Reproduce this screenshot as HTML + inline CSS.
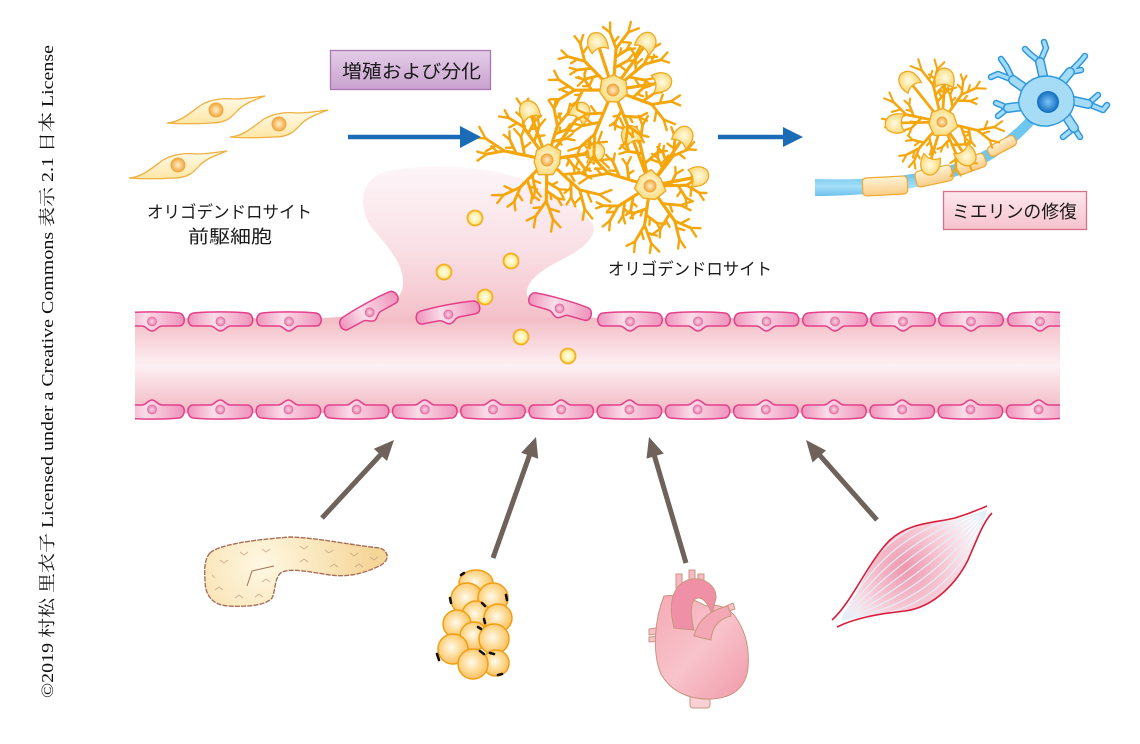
<!DOCTYPE html>
<html><head><meta charset="utf-8">
<style>
html,body{margin:0;padding:0;background:#fff;}
svg{display:block;}
.t{font-family:"Liberation Sans","Noto Sans CJK JP",sans-serif;fill:#1a1a1a;}
</style></head><body>
<svg id="s" width="1140" height="744" viewBox="0 0 1140 744" xmlns="http://www.w3.org/2000/svg">
<defs>
  <linearGradient id="gv" gradientUnits="userSpaceOnUse" x1="0" y1="318" x2="0" y2="413">
    <stop offset="0" stop-color="#f3bcc4"/><stop offset="0.5" stop-color="#fdf0f4"/><stop offset="1" stop-color="#f2b7c1"/>
  </linearGradient>
  <linearGradient id="gp" gradientUnits="userSpaceOnUse" x1="0" y1="168" x2="0" y2="320">
    <stop offset="0" stop-color="#fdf5f8"/><stop offset="0.55" stop-color="#f9dfe5"/><stop offset="1" stop-color="#f4c0c8"/>
  </linearGradient>
  <linearGradient id="gc" x1="0" y1="0" x2="1" y2="0">
    <stop offset="0" stop-color="#ee92bb"/><stop offset="0.4" stop-color="#fbdde9"/><stop offset="1" stop-color="#ee92bb"/>
  </linearGradient>
  <radialGradient id="gn"><stop offset="0" stop-color="#fbd6e5"/><stop offset="1" stop-color="#e67dab"/></radialGradient>
  <radialGradient id="gdot"><stop offset="0" stop-color="#fffdf0"/><stop offset="0.6" stop-color="#fff2b0"/><stop offset="1" stop-color="#ffe070"/></radialGradient>
  <radialGradient id="gsoma"><stop offset="0" stop-color="#fffbe4"/><stop offset="1" stop-color="#fbdc80"/></radialGradient>
  <radialGradient id="gnuc"><stop offset="0" stop-color="#fff0c8"/><stop offset="1" stop-color="#f2a640"/></radialGradient>
  <linearGradient id="gopc" x1="0" y1="0" x2="0" y2="1">
    <stop offset="0" stop-color="#fffbea"/><stop offset="1" stop-color="#fde6a6"/>
  </linearGradient>
  <linearGradient id="gpur" x1="0" y1="0" x2="0" y2="1">
    <stop offset="0" stop-color="#e4cde8"/><stop offset="1" stop-color="#c9a2cf"/>
  </linearGradient>
  <linearGradient id="gpink" x1="0" y1="0" x2="0" y2="1">
    <stop offset="0" stop-color="#fde8ee"/><stop offset="1" stop-color="#f6c2ce"/>
  </linearGradient>
  <linearGradient id="gmy" x1="0" y1="0" x2="0" y2="1">
    <stop offset="0" stop-color="#fff3d6"/><stop offset="1" stop-color="#f8cd88"/>
  </linearGradient>
  <linearGradient id="gax" gradientUnits="userSpaceOnUse" x1="0" y1="175" x2="0" y2="198">
    <stop offset="0" stop-color="#6fc6ee"/><stop offset="0.5" stop-color="#a6defa"/><stop offset="1" stop-color="#5fbce8"/>
  </linearGradient>
  <radialGradient id="gnn"><stop offset="0" stop-color="#7cc4f5"/><stop offset="1" stop-color="#0f6cbf"/></radialGradient>
  <radialGradient id="gpan" gradientUnits="userSpaceOnUse" cx="262" cy="565" r="110">
    <stop offset="0" stop-color="#fff8e2"/><stop offset="1" stop-color="#f5d699"/>
  </radialGradient>
  <radialGradient id="gfat" cx="0.45" cy="0.45" r="0.6">
    <stop offset="0" stop-color="#fffaf0"/><stop offset="0.5" stop-color="#ffdc98"/><stop offset="1" stop-color="#f7bc5c"/>
  </radialGradient>
  <linearGradient id="gh" x1="0" y1="0" x2="1" y2="1">
    <stop offset="0" stop-color="#f5aab6"/><stop offset="0.5" stop-color="#f8c3cb"/><stop offset="1" stop-color="#f09aaa"/>
  </linearGradient>
  <radialGradient id="gmus" gradientUnits="userSpaceOnUse" cx="905" cy="568" r="85">
    <stop offset="0" stop-color="#ee95ac"/><stop offset="0.55" stop-color="#f8d2dc"/><stop offset="1" stop-color="#ffffff"/>
  </radialGradient>
  <clipPath id="cv"><rect x="135" y="290" width="925" height="140"/></clipPath>
  <clipPath id="cm"><path d="M838,621 C856,600 870,560 890,540 C910,522 935,523 955,518 C970,514 980,512 989,510 C982,522 976,542 968,560 C957,582 935,607 905,611 C878,614 856,618 838,621 Z"/></clipPath>
  <g id="ec">
    <path d="M-27,-7 C-12,-8.5 12,-8.5 27,-7 C34,-6 34,6 27,6 L10,6 C6,6 4,11 0,11 C-4,11 -6,6 -10,6 L-27,6 C-34,6 -34,-6 -27,-7 Z" fill="url(#gc)" stroke="#e4408a" stroke-width="1.5"/>
    <circle cx="0" cy="1.5" r="4.5" fill="url(#gn)" stroke="#e76aa2" stroke-width="0.8"/>
  </g>
  <g id="opc">
    <path d="M-49,13 C-35,12 -25,2 -15,-5 C-5,-11 8,-12 18,-11 C30,-11 40,-13 49,-14 C38,-10 28,-6 22,0 C15,8 10,13 -5,13 C-20,14 -35,14 -49,13 Z" fill="url(#gopc)" stroke="#efb040" stroke-width="1.3"/>
    <circle cx="0" cy="0" r="7" fill="url(#gnuc)" stroke="#f0a838" stroke-width="1"/>
  </g>
</defs>

<!-- copyright -->
<text transform="translate(53,698) rotate(-90)" style="font-family:'Liberation Serif','Noto Serif CJK JP',serif;font-size:17px;fill:#111" textLength="653" lengthAdjust="spacingAndGlyphs">©2019 村松 里衣子 Licensed under a Creative Commons 表示 2.1 日本 License</text>

<!-- plume -->
<path d="M323,318 C360,316 395,310 402,290 C408,265 385,245 370,225 C358,205 360,180 385,172 C420,163 480,165 520,178 C555,192 585,210 593,225 C597,235 585,248 565,258 C540,270 525,282 527,295 C530,308 560,316 597,318 Z" fill="url(#gp)"/>

<!-- vessel -->
<rect x="135" y="318" width="925" height="95" fill="url(#gv)"/>
<g clip-path="url(#cv)">
  <use href="#ec" transform="translate(152,320)"/>
  <use href="#ec" transform="translate(220.5,320)"/>
  <use href="#ec" transform="translate(289,320)"/>
  <use href="#ec" transform="translate(630,320)"/>
  <use href="#ec" transform="translate(698,320)"/>
  <use href="#ec" transform="translate(766.5,320)"/>
  <use href="#ec" transform="translate(835,320)"/>
  <use href="#ec" transform="translate(903,320)"/>
  <use href="#ec" transform="translate(971,320)"/>
  <use href="#ec" transform="translate(1040,320)"/>
  <g id="bottomrow"></g>
</g>
<use href="#ec" transform="translate(369,311) rotate(-29)"/>
<use href="#ec" transform="translate(448,313) rotate(-11)"/>
<use href="#ec" transform="translate(560,307) rotate(16)"/>

<!-- oligodendrocyte layer -->
<g id="olig"></g>

<!-- yellow dots -->
<g fill="url(#gdot)" stroke="#f5b020" stroke-width="1.8">
  <circle cx="475" cy="218" r="7.5"/>
  <circle cx="444" cy="272" r="7.5"/>
  <circle cx="511" cy="261" r="7.5"/>
  <circle cx="485" cy="297" r="7.5"/>
  <circle cx="521" cy="337" r="7.5"/>
  <circle cx="568" cy="356" r="7.5"/>
</g>

<!-- OPCs -->
<use href="#opc" transform="translate(216,110)"/>
<use href="#opc" transform="translate(279,124)"/>
<use href="#opc" transform="translate(178,165)"/>

<!-- labels -->
<text class="t" x="147" y="218" font-size="17" textLength="165" lengthAdjust="spacingAndGlyphs">オリゴデンドロサイト</text>
<text class="t" x="188" y="243" font-size="18" textLength="84" lengthAdjust="spacingAndGlyphs">前駆細胞</text>
<text class="t" x="608" y="275" font-size="17" textLength="164" lengthAdjust="spacingAndGlyphs">オリゴデンドロサイト</text>

<rect x="330.5" y="50.5" width="160" height="39" fill="url(#gpur)" stroke="#a877b2" stroke-width="1.3"/>
<text class="t" x="342" y="78" font-size="18.5" textLength="139" lengthAdjust="spacingAndGlyphs">増殖および分化</text>

<rect x="943.5" y="191.5" width="143" height="38" fill="url(#gpink)" stroke="#d8708e" stroke-width="1.3"/>
<text class="t" x="952" y="218" font-size="18" textLength="125" lengthAdjust="spacingAndGlyphs">ミエリンの修復</text>

<!-- blue arrows -->
<line x1="348" y1="137" x2="463" y2="137" stroke="#1a6cb6" stroke-width="4.5"/>
<polygon points="460,126 481,137 460,148" fill="#1a6cb6"/>
<line x1="718" y1="137" x2="786" y2="137" stroke="#1a6cb6" stroke-width="4.5"/>
<polygon points="783,127 803,137 783,147" fill="#1a6cb6"/>

<!-- neuron -->
<g id="neuron">
  <path d="M815,179 C870,181 930,176 970,158 C995,146 1012,134 1028,116 L1036,122 C1020,140 1002,155 976,168 C935,188 875,196 815,196 Z" fill="url(#gax)"/>
  <g fill="url(#gmy)" stroke="#f0a830" stroke-width="1.2">
    <rect x="-22.5" y="-9" width="45" height="18" rx="4" transform="translate(885,186) rotate(-3)"/>
    <rect x="-18.5" y="-8" width="37" height="16" rx="4" transform="translate(934,176) rotate(-12)"/>
    <rect x="-15" y="-7" width="30" height="14" rx="4" transform="translate(971,164) rotate(-20)"/>
    <rect x="-15" y="-5.5" width="30" height="11" rx="4" transform="translate(1002,146) rotate(-28)"/>
  </g>
  <g fill="none" stroke-linecap="round" stroke-linejoin="round">
    <path d="M1030,92 L1013,80 L998,74 M1013,80 L1006,66 M998,74 L991,77 M1006,66 L1001,59 M1044,80 L1040,62 L1030,54 M1040,62 L1046,48 M1030,54 L1025,49 M1046,48 L1044,42 M1060,84 L1070,72 L1080,62 M1070,72 L1081,70 M1080,62 L1085,56 M1070,100 L1088,104 L1103,110 M1088,104 L1098,95 M1103,110 L1107,105 M1066,116 L1074,128 L1080,137 M1074,128 L1063,137 M1024,106 L1008,108 L996,103 M1008,108 L998,116" stroke="#2e97dc" stroke-width="6.5"/>
    <path d="M1030,92 L1013,80 L998,74 M1013,80 L1006,66 M998,74 L991,77 M1006,66 L1001,59 M1044,80 L1040,62 L1030,54 M1040,62 L1046,48 M1030,54 L1025,49 M1046,48 L1044,42 M1060,84 L1070,72 L1080,62 M1070,72 L1081,70 M1080,62 L1085,56 M1070,100 L1088,104 L1103,110 M1088,104 L1098,95 M1103,110 L1107,105 M1066,116 L1074,128 L1080,137 M1074,128 L1063,137 M1024,106 L1008,108 L996,103 M1008,108 L998,116" stroke="#a3dbf6" stroke-width="3.5"/>
    <path d="M1030,92 L1013,80 M1044,80 L1040,62 M1060,84 L1070,72 M1070,100 L1088,104 M1066,116 L1074,128 M1024,106 L1008,108" stroke="#2e97dc" stroke-width="10"/>
    <path d="M1030,92 L1013,80 M1044,80 L1040,62 M1060,84 L1070,72 M1070,100 L1088,104 M1066,116 L1074,128 M1024,106 L1008,108" stroke="#a3dbf6" stroke-width="7"/>
  </g>
  <path d="M1020,96 C1022,84 1034,76 1046,76 C1062,76 1074,88 1074,100 C1075,114 1062,124 1048,126 C1034,127 1026,120 1022,112 C1018,106 1018,100 1020,96 Z" fill="#a6dcf6" stroke="#2e98dc" stroke-width="1.4"/>
  <circle cx="1048" cy="102" r="11" fill="url(#gnn)"/>
</g>
<g id="olig2"></g>

<!-- gray arrows -->
<g stroke="#6e625b" stroke-width="5" fill="none">
  <line x1="322" y1="518" x2="384" y2="451"/>
  <line x1="493" y1="558" x2="531" y2="451"/>
  <line x1="686" y1="563" x2="653" y2="451"/>
  <line x1="877" y1="520" x2="816" y2="451"/>
</g>
<g fill="#6e625b">
  <polygon points="394,440 387.0,461 373.8,448.8"/>
  <polygon points="536,437 538.2,458.8 521.2,452.8"/>
  <polygon points="649,437 663.8,453.5 646.5,458.6"/>
  <polygon points="806,440 826.0,450.5 812.5,462.5"/>
</g>

<!-- pancreas -->
<path d="M210,553 C218,545 250,540 290,537 C320,538 350,545 380,548 C390,552 390,562 377,567 C360,575 345,577 330,575 C310,572 292,568 282,572 C274,577 276,590 272,598 C265,606 245,607 228,606 C212,605 205,595 205,580 C204,568 205,558 210,553 Z" fill="url(#gpan)" stroke="#a86f58" stroke-width="1.4" stroke-dasharray="5 1.2"/>
<path d="M247,586 L252,571 L274,566" fill="none" stroke="#a86f58" stroke-width="1"/>
<g fill="none" stroke="#c49a80" stroke-width="0.8" opacity="0.8">
  <path d="M220,560 l4,3 l4,-3 M240,552 l4,3 l4,-3 M262,549 l4,3 l4,-3 M300,546 l4,3 l4,-3 M325,550 l4,3 l4,-3 M350,553 l4,3 l4,-3 M370,557 l4,3 l4,-3 M300,562 l4,-3 l4,3 M330,567 l4,-3 l4,3 M355,567 l4,-3 l4,3 M215,590 l4,-3 l4,3 M235,598 l4,-3 l4,3 M255,597 l4,-3 l4,3 M262,582 l4,-3 l4,3 M212,575 l3,3"/>
</g>

<!-- fat cells -->
<g fill="url(#gfat)" stroke="#f29e10" stroke-width="1.5">
  <ellipse cx="476" cy="583" rx="17" ry="13"/>
  <circle cx="467" cy="599" r="16"/>
  <circle cx="493" cy="598" r="15"/>
  <circle cx="476" cy="615" r="14"/>
  <circle cx="498" cy="618" r="14"/>
  <circle cx="457" cy="624" r="14"/>
  <circle cx="474" cy="636" r="14"/>
  <circle cx="494" cy="639" r="15"/>
  <circle cx="453" cy="649" r="15"/>
  <circle cx="496" cy="663" r="13"/>
  <circle cx="473" cy="664" r="15"/>
</g>
<g stroke="#111" stroke-width="2.6" stroke-linecap="round">
  <line x1="461" y1="575" x2="464" y2="573"/>
  <line x1="450" y1="598" x2="451" y2="603"/>
  <line x1="506" y1="595" x2="507" y2="600"/>
  <line x1="482" y1="603" x2="485" y2="606"/>
  <line x1="484" y1="619" x2="485" y2="623"/>
  <line x1="478" y1="627" x2="481" y2="629"/>
  <line x1="437" y1="654" x2="439" y2="660"/>
  <line x1="480" y1="651" x2="484" y2="654"/>
  <line x1="490" y1="653" x2="494" y2="654"/>
  <line x1="498" y1="675" x2="502" y2="674"/>
</g>

<!-- heart -->
<g stroke="#c9957f" stroke-width="1">
  <path d="M649,629 L662,627 L662,633 L649,635 Z" fill="#f6c2c8"/>
  <path d="M649,637 L662,636 L662,641 L649,642 Z" fill="#f6c2c8"/>
  <path d="M722,608 L733,603 L735,609 L724,613 Z" fill="#f6c2c8"/>
  <path d="M724,617 L736,619 L735,625 L723,623 Z" fill="#f6c2c8"/>
  <rect x="676" y="574" width="6" height="14" fill="#f6b8c2"/>
  <rect x="689" y="570" width="6" height="14" fill="#f6b8c2"/>
  <rect x="698" y="574" width="6" height="14" fill="#f6b8c2"/>
  <rect x="690" y="690" width="20" height="18" rx="3" fill="#f8d0d6"/>
  <path d="M664,596 C655,618 652,650 660,672 C670,692 690,700 712,699 C732,698 746,688 748,668 C750,645 744,628 734,615 C726,606 716,604 706,606 C692,598 676,594 664,596 Z" fill="url(#gh)"/>
  <path d="M674,628 C668,604 672,586 688,580 C702,576 716,584 716,598 L712,614 C708,604 704,598 698,598 C690,599 690,614 694,630 Z" fill="#f090a6"/>
  <path d="M694,636 C698,620 710,610 728,606 L731,616 C718,619 712,628 711,640 Z" fill="#f4a8b6"/>
</g>

<!-- muscle -->
<path d="M838,621 C856,600 870,560 890,540 C910,522 935,523 955,518 C970,514 980,512 989,510 C982,522 976,542 968,560 C957,582 935,607 905,611 C878,614 856,618 838,621 Z" fill="url(#gmus)"/>
<g clip-path="url(#cm)" fill="none" stroke="#e4edf8" stroke-width="1.2">
  <path d="M842,620 Q875.3,514 987,510"/>
  <path d="M842,620 Q885,526.7 987,510"/>
  <path d="M842,620 Q894.7,539.5 987,510"/>
  <path d="M842,620 Q904.3,552.2 987,510"/>
  <path d="M842,620 Q914,565 987,510"/>
  <path d="M842,620 Q923.7,577.8 987,510"/>
  <path d="M842,620 Q933.3,590.5 987,510"/>
  <path d="M842,620 Q943,603.3 987,510"/>
  <path d="M842,620 Q952.7,616 987,510"/>
</g>
<g fill="none" stroke="#d81e3c" stroke-width="1.6">
  <path d="M832,620 C852,602 868,562 890,540 C910,522 935,523 955,518 C968,514 978,510 987,506"/>
  <path d="M837,627 C855,618 878,614 905,611 C935,607 957,582 968,560 C976,542 983,522 992,513"/>
</g>
</svg>
<script>
(function(){
const NS='http://www.w3.org/2000/svg';
function el(tag,a,p){const e=document.createElementNS(NS,tag);for(const k in a)e.setAttribute(k,a[k]);p.appendChild(e);return e;}
const br0=document.getElementById('bottomrow');
for(let k=0;k<14;k++){const x=152+68.2*k;el('use',{href:'#ec',transform:'translate('+x.toFixed(1)+',411) scale(1,-1)'},br0);}
function oligo(layer,cx,cy,L,S,nr,seed,n,lobes,lw){
  let s=seed;const r=()=>{s=(s*16807)%2147483647;return s/2147483647;};
  const d=['','',''];
  function br(x,y,a,len,depth){
    const x2=x+Math.cos(a)*len,y2=y+Math.sin(a)*len;
    d[2-depth]+='M'+x.toFixed(1)+','+y.toFixed(1)+'L'+x2.toFixed(1)+','+y2.toFixed(1);
    if(depth<=0)return;
    const ns=depth==2?2:1;
    for(let i=0;i<ns;i++){
      const t=0.4+0.3*i+(r()-0.5)*0.1;
      const side=(i%2?1:-1)*(r()<0.5?1:-1);
      br(x+Math.cos(a)*len*t,y+Math.sin(a)*len*t,a+side*(0.8+r()*0.4),len*(0.4+r()*0.15),depth-1);
    }
    br(x2,y2,a-0.35-r()*0.25,len*(0.5+r()*0.15),depth-1);
    br(x2,y2,a+0.35+r()*0.25,len*(0.5+r()*0.15),depth-1);
  }
  const g=el('g',{},layer);
  const a0=r()*6.28;
  for(let i=0;i<n;i++){
    const a=a0+i*6.283/n+(r()-0.5)*0.4;
    br(cx+Math.cos(a)*S*0.6,cy+Math.sin(a)*S*0.6,a,L*(0.85+r()*0.3),2);
  }
  lobes.forEach(o=>{d[0]+='M'+cx+','+cy+'L'+o[0]+','+o[1];});
  const c='#f5a60c';
  el('path',{d:d[2],stroke:c,'stroke-width':lw*0.75,fill:'none','stroke-linecap':'round'},g);
  el('path',{d:d[1],stroke:c,'stroke-width':lw*0.9,fill:'none','stroke-linecap':'round'},g);
  el('path',{d:d[0],stroke:c,'stroke-width':lw,fill:'none','stroke-linecap':'round'},g);
  const sc=S/14;
  lobes.forEach(o=>{const ang=Math.atan2(o[1]-cy,o[0]-cx)*180/Math.PI;
    el('path',{d:'M-7,-8 C3,-12 12,-7 11,0 C10,7 3,10 -7,8 C-3,3 -3,-3 -7,-8 Z',transform:'translate('+o[0]+','+o[1]+') rotate('+ang.toFixed(1)+') scale('+sc.toFixed(2)+')',fill:'url(#gsoma)',stroke:'#f0a820','stroke-width':1.3/sc},g);});
  let p='';const m=7;
  for(let i=0;i<m;i++){const a=i*6.283/m+0.3;const rr=S*(0.85+r()*0.3);p+=(i?'L':'M')+(cx+Math.cos(a)*rr).toFixed(1)+','+(cy+Math.sin(a)*rr).toFixed(1);}
  el('path',{d:p+'Z',fill:'url(#gsoma)',stroke:'#f0a820','stroke-width':1.4,'stroke-linejoin':'round'},g);
  el('circle',{cx:cx,cy:cy,r:nr,fill:'url(#gnuc)',stroke:'#f0a838','stroke-width':1},g);
}
const L1=document.getElementById('olig');
oligo(L1,547,160,31,15,6,12345,7,[[530,112],[580,114],[593,153]],3.2);
oligo(L1,650,186,31,15,6,54321,7,[[632,137],[683,138],[697,177]],3.2);
oligo(L1,613,90,34,15,6,98765,7,[[598,44],[646,44],[660,83]],3.2);
const L2=document.getElementById('olig2');
oligo(L2,942,122,26,15,5,24680,6,[[910,82],[945,80],[897,123],[930,163],[965,155]],2.8);
})();
</script>
</body></html>
